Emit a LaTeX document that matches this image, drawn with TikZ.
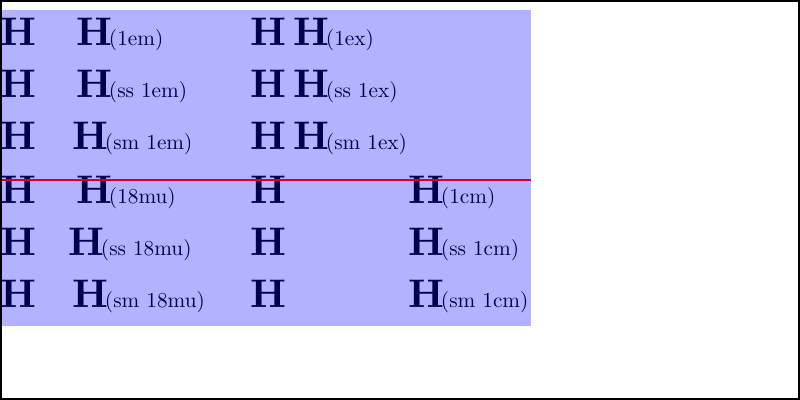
\documentclass[tikz,border=0pt]{standalone}
\begin{document}
\begin{tikzpicture}[x=0.2306pt,y=-0.2306pt,
  big/.style={anchor=base west,inner sep=0pt,outer sep=0pt,font=\bfseries,scale=0.92},
  lab/.style={anchor=base west,inner sep=0pt,outer sep=0pt,scale=0.49},
  overlay box/.style={fill=blue,fill opacity=0.3,draw=none},
  guide/.style={draw=red!80!blue,draw opacity=1,line width=0.4pt},
  frame/.style={draw=black,line width=0.35pt}]
\useasboundingbox (0,0) rectangle (800,400);
\fill[white] (0,0) rectangle (800,400);
% column 1
\foreach \r/\b in {1/45.7,2/97.7,3/149.7,4/203.7,5/255.7,6/307.7}
  \node[big] (a\r) at (0.8,\b) {H};
% column 2
\foreach \r/\b/\hx/\sx/\t in {1/45.7/76.8/109/(1em),2/97.7/76.8/109/(ss 1em),3/149.7/72.8/105/(sm 1em),
  4/203.7/76.8/109/(18mu),5/255.7/68.8/101/(ss 18mu),6/307.7/72.8/105/(sm 18mu)}{
  \node[big] (b\r) at (\hx,\b) {H};
  \node[lab] (bs\r) at (\sx,\b) {\t};
}
% column 3
\foreach \r/\b in {1/45.7,2/97.7,3/149.7,4/203.7,5/255.7,6/307.7}
  \node[big] (c\r) at (250.8,\b) {H};
% column 4
\foreach \r/\b/\hx/\sx/\t in {1/45.7/293.8/326/(1ex),2/97.7/293.8/326/(ss 1ex),3/149.7/293.8/326/(sm 1ex),
  4/203.7/408.8/441/(1cm),5/255.7/408.8/441/(ss 1cm),6/307.7/408.8/441/(sm 1cm)}{
  \node[big] (d\r) at (\hx,\b) {H};
  \node[lab] (ds\r) at (\sx,\b) {\t};
}
\begin{scope}
\path[overlay box] (0,10) rectangle (531,325.5);
\end{scope}
\coordinate (gl) at (0,179.7);
\coordinate (gr) at (531,179.7);
\path[guide] (gl) -- (gr);
\draw[frame] (0.8,0.8) rectangle (799.2,399.2);
\end{tikzpicture}
\end{document}
